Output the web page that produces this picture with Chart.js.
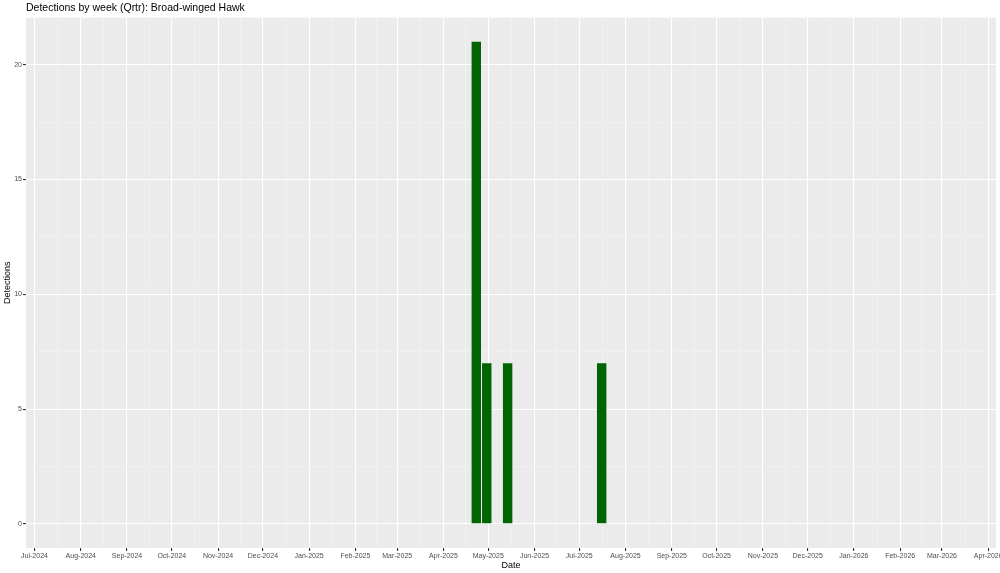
<!DOCTYPE html>
<html>
<head>
<meta charset="utf-8">
<script src="https://cdn.jsdelivr.net/npm/chart.js@4.4.1/dist/chart.umd.min.js"></script>
<style>
  html, body { margin: 0; padding: 0; background: #ffffff; }
  #wrap { width: 1000px; height: 573px; position: relative; }
</style>
</head>
<body>
<div id="wrap"><canvas id="detections-chart"></canvas></div>
<script>
// weekly detections
let weeks = ['2025-04-23', '2025-04-30', '2025-05-14', '2025-07-16']
let detections = [21, 7, 7, 7]

// x axis month ticks (Jul-2024 .. Apr-2026)
let month_names = ['Jan', 'Feb', 'Mar', 'Apr', 'May', 'Jun', 'Jul', 'Aug', 'Sep', 'Oct', 'Nov', 'Dec']
let first_month = [2024, 6]
let month_count = 22
let y_breaks = [0, 5, 10, 15, 20]
let y_minor = [2.5, 7.5, 12.5, 17.5]

const DAY = 86400000
let toTime = s => { let p = s.split('-'); return Date.UTC(+p[0], +p[1] - 1, +p[2]) }

let month_ticks = []
for (let i = 0; i < month_count; i++) {
  month_ticks.push(Date.UTC(first_month[0], first_month[1] + i, 1))
}
let minor_ticks = []
for (let i = 0; i < month_ticks.length - 1; i++) {
  minor_ticks.push((month_ticks[i] + month_ticks[i + 1]) / 2)
}

let x_min = month_ticks[0] - 5.7 * DAY
let x_max = month_ticks[month_ticks.length - 1] + 5.2 * DAY

let panel_bg = {
  id: 'panelBg',
  beforeDraw(chart) {
    let a = chart.chartArea
    let ctx = chart.ctx
    ctx.save()
    ctx.fillStyle = '#EBEBEB'
    ctx.fillRect(a.left, a.top, a.right - a.left, a.bottom - a.top)
    ctx.restore()
  }
}

let isMajor = (ctx, list) => ctx.tick && list.includes(ctx.tick.value)

let chart = new Chart(document.querySelector('#detections-chart'), {
  type: 'bar',
  data: {
    datasets: [{
      data: weeks.map((w, i) => ({ x: toTime(w), y: detections[i] })),
      backgroundColor: '#006400',
      borderWidth: 0,
      barPercentage: 0.9,
      categoryPercentage: 1.0
    }]
  },
  plugins: [panel_bg],
  options: {
    responsive: true,
    maintainAspectRatio: false,
    animation: false,
    layout: { padding: { left: 0, right: 4, top: 0, bottom: 0 } },
    plugins: {
      legend: { display: false },
      tooltip: { enabled: false },
      title: {
        display: true,
        text: 'Detections by week (Qrtr): Broad-winged Hawk',
        align: 'start',
        fullSize: false,
        color: '#000000',
        font: { family: 'Liberation Sans', size: 10.5, weight: 'normal' },
        padding: { top: 2, bottom: 3 }
      }
    },
    scales: {
      x: {
        type: 'linear',
        min: x_min,
        max: x_max,
        offset: false,
        border: { display: false },
        grid: {
          offset: false,
          color: c => isMajor(c, month_ticks) ? '#FFFFFF' : '#F4F4F4',
          lineWidth: c => isMajor(c, month_ticks) ? 1.1 : 0.6,
          tickColor: c => isMajor(c, month_ticks) ? '#333333' : 'rgba(0,0,0,0)',
          tickLength: 3,
          drawTicks: true
        },
        afterBuildTicks: scale => {
          scale.ticks = month_ticks.concat(minor_ticks).sort((a, b) => a - b).map(v => ({ value: v }))
        },
        afterFit: scale => {
          scale.height = 25
          scale.paddingLeft = 0
          scale.paddingRight = 0
        },
        ticks: {
          autoSkip: false,
          maxRotation: 0,
          minRotation: 0,
          padding: 1,
          color: '#4D4D4D',
          font: { family: 'Liberation Sans', size: 7 },
          callback: v => {
            if (!month_ticks.includes(v)) return ''
            let d = new Date(v)
            return month_names[d.getUTCMonth()] + '-' + d.getUTCFullYear()
          }
        },
        title: {
          display: true,
          text: 'Date',
          color: '#000000',
          font: { family: 'Liberation Sans', size: 9 },
          padding: { top: 0, bottom: 2 }
        }
      },
      y: {
        type: 'linear',
        min: -1.05,
        max: 22.05,
        border: { display: false },
        grid: {
          color: c => isMajor(c, y_breaks) ? '#FFFFFF' : '#F4F4F4',
          lineWidth: c => isMajor(c, y_breaks) ? 1.1 : 0.6,
          tickColor: c => isMajor(c, y_breaks) ? '#333333' : 'rgba(0,0,0,0)',
          tickLength: 3
        },
        afterBuildTicks: scale => {
          scale.ticks = y_breaks.concat(y_minor).sort((a, b) => a - b).map(v => ({ value: v }))
        },
        afterFit: scale => {
          scale.width = 26
        },
        ticks: {
          autoSkip: false,
          padding: 1,
          color: '#4D4D4D',
          font: { family: 'Liberation Sans', size: 7 },
          callback: v => y_breaks.includes(v) ? String(v) : ''
        },
        title: {
          display: true,
          text: 'Detections',
          color: '#000000',
          font: { family: 'Liberation Sans', size: 9 },
          padding: { top: 2, bottom: 0 }
        }
      }
    }
  }
})
</script>
</body>
</html>
